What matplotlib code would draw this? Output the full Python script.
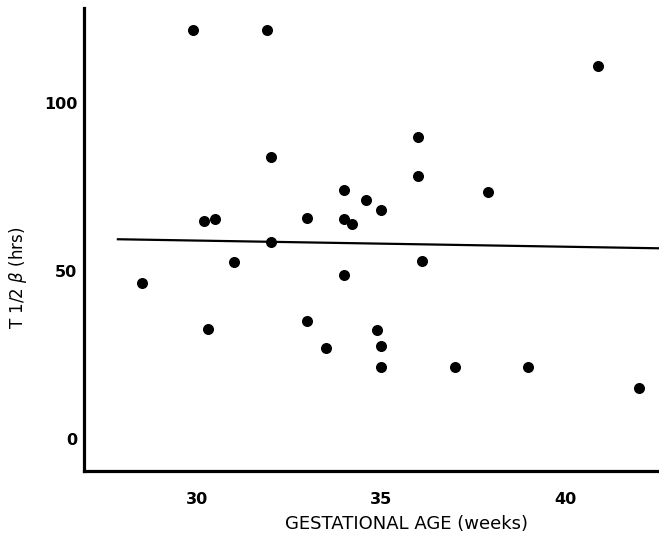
import matplotlib.pyplot as plt

# gestational age (weeks) and T 1/2 beta (hrs)
age = [29.9, 31.9, 40.9, 36.0, 32.0, 36.0, 34.0, 37.9, 34.6, 35.0,
       30.2, 30.5, 33.0, 34.0, 34.2, 32.0, 31.0, 36.1, 34.0, 28.5,
       33.0, 30.3, 34.9, 33.5, 35.0, 35.0, 37.0, 39.0, 42.0]
t_half = [121.7, 121.7, 111.0, 89.9, 83.9, 78.3, 74.1, 73.5, 71.1, 68.2,
          64.9, 65.5, 65.8, 65.5, 64.0, 58.6, 52.7, 53.0, 48.8, 46.4,
          35.1, 32.7, 32.4, 27.1, 27.7, 21.4, 21.4, 21.4, 15.2]

# regression line end points
line_x = [27.85, 42.6]
line_y = [59.5, 56.8]

x_ticks = [30, 35, 40]
y_ticks = [0, 50, 100]

fig = plt.figure(figsize=(6.59, 5.39), dpi=100)
ax = fig.add_axes([0.1275, 0.126, 0.8725, 0.859])

ax.scatter(age, t_half, s=48, color='black', zorder=3)
ax.plot(line_x, line_y, color='black', lw=1.6)

ax.set_xlim(26.93, 42.55)
ax.set_ylim(-9.5, 128.3)

for side in ['top', 'right']:
    ax.spines[side].set_visible(False)
for side in ['left', 'bottom']:
    ax.spines[side].set_linewidth(2.3)

ax.set_xticks(x_ticks)
ax.set_yticks(y_ticks)
ax.tick_params(axis='both', length=0, labelsize=11.5)
ax.tick_params(axis='x', pad=15)
ax.tick_params(axis='y', pad=5)
for lab in ax.get_xticklabels() + ax.get_yticklabels():
    lab.set_fontweight('bold')

ax.set_xlabel('GESTATIONAL AGE (weeks)', fontsize=13, va='center')
ax.xaxis.set_label_coords(0.56, -0.115)
ax.set_ylabel('T 1/2 $\\beta$ (hrs)', fontsize=12, va='center')
ax.yaxis.set_label_coords(-0.114, 0.417)

fig.savefig('out.png', dpi=100)
